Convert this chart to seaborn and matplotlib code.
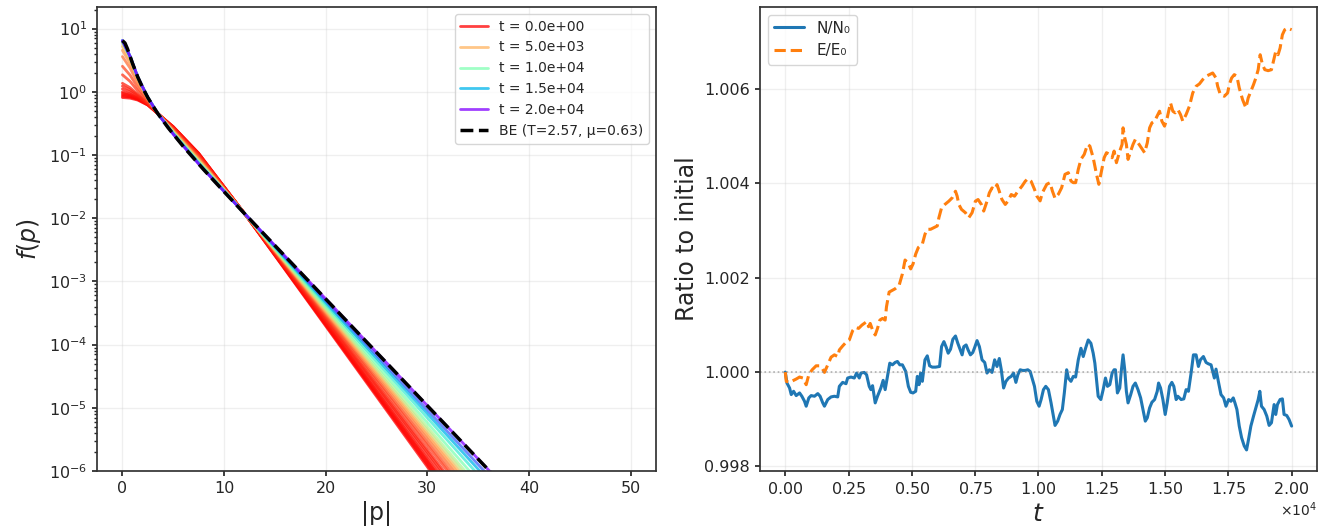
import numpy as np
import matplotlib
matplotlib.use("Agg")
import matplotlib.pyplot as plt
import seaborn as sns
from matplotlib.ticker import MultipleLocator, FormatStrFormatter

T_MAX = 20000

# ── left panel: distribution snapshots, log10 f(p) read at a few |p| knots ──
p_knots = [0, 0.75, 1.5, 2.5, 3.5, 5, 7.5, 12, 50]
snap_t = [0, 100, 200, 300, 400, 600, 800, 1000, 1500, 2000, 3000, 4000,
          5000, 6500, 8000, 10000, 12500, 15000, 17500, 20000]
label_t = [0, 5000, 10000, 15000, 20000]

logf_p0 = [-0.09, -0.068, -0.045, -0.023, 0.0, 0.045, 0.09, 0.135, 0.27, 0.405,
           0.558, 0.657, 0.72, 0.765, 0.788, 0.801, 0.81, 0.81, 0.81, 0.81]
logf_p075 = [-0.10, -0.083, -0.067, -0.050, -0.034, 0.0, 0.033, 0.066, 0.166, 0.265,
             0.378, 0.451, 0.498, 0.531, 0.547, 0.557, 0.564, 0.564, 0.564, 0.564]
logf_p15 = [-0.13, -0.121, -0.112, -0.102, -0.093, -0.075, -0.056, -0.038, 0.017, 0.072,
            0.135, 0.175, 0.201, 0.220, 0.229, 0.234, 0.238, 0.238, 0.238, 0.238]
logf_p25 = [-0.21, -0.207, -0.204, -0.201, -0.198, -0.192, -0.186, -0.18, -0.162, -0.144,
            -0.124, -0.110, -0.102, -0.096, -0.093, -0.091, -0.09, -0.09, -0.09, -0.09]
logf_p35 = [-0.347, -0.347, -0.347, -0.347, -0.347, -0.347, -0.347, -0.347, -0.347, -0.347,
            -0.347, -0.347, -0.347, -0.347, -0.347, -0.347, -0.347, -0.347, -0.347, -0.347]
logf_p5 = [-0.55, -0.553, -0.556, -0.559, -0.562, -0.567, -0.572, -0.577, -0.586, -0.595,
           -0.607, -0.617, -0.625, -0.635, -0.642, -0.650, -0.658, -0.664, -0.667, -0.671]
logf_p75 = [-0.97, -0.974, -0.979, -0.983, -0.987, -0.994, -1.001, -1.008, -1.022, -1.034,
            -1.051, -1.065, -1.077, -1.090, -1.101, -1.113, -1.123, -1.132, -1.137, -1.142]
logf_p12 = [-1.923, -1.923, -1.923, -1.923, -1.923, -1.923, -1.923, -1.923, -1.923, -1.923,
            -1.923, -1.923, -1.923, -1.923, -1.923, -1.923, -1.923, -1.923, -1.923, -1.923]
logf_p50 = [-10.39, -10.318, -10.247, -10.186, -10.124, -10.001, -9.899, -9.817, -9.674,
            -9.572, -9.449, -9.347, -9.265, -9.163, -9.061, -8.918, -8.754, -8.611,
            -8.488, -8.345]

# Bose-Einstein reference curve
p_be = [0, 0.25, 0.5, 0.75, 1, 1.5, 2, 2.5, 3, 3.5, 4.5, 6, 8, 10, 12, 20, 30, 40, 50]
f_be = [6.46, 5.92, 4.78, 3.67, 2.80, 1.73, 1.15, 0.812, 0.596, 0.449, 0.270,
        0.136, 0.0587, 0.0263, 0.0119, 5.28e-4, 1.08e-5, 2.21e-7, 4.52e-9]

# ── right panel: conserved quantities, deviation from 1 in units of 1e-3 ──
t_n = [0, 66, 170, 236, 328, 432, 564, 655, 760, 826, 930, 1022, 1153, 1284, 1376,
       1481, 1547, 1678, 1809, 1940, 2071, 2136, 2267, 2398, 2464, 2595, 2726, 2818,
       2923, 2988, 3119, 3211, 3316, 3381, 3447, 3552, 3643, 3775, 3866, 3945, 4037,
       4128, 4233, 4338, 4430, 4522, 4626, 4757, 4862, 4954, 5046, 5151, 5216, 5282,
       5347, 5413, 5518, 5609, 5701, 5806, 5937, 6094, 6173, 6265, 6356, 6435, 6527,
       6619, 6723, 6815, 6920, 6985, 7051, 7143, 7221, 7313, 7405, 7484, 7575, 7667,
       7772, 7877, 7968, 8060, 8165, 8270, 8362, 8453, 8532, 8624, 8716, 8820, 8925,
       9017, 9109, 9187, 9279, 9371, 9476, 9580, 9672, 9843, 9934, 10026, 10105,
       10197, 10288, 10393, 10498, 10590, 10655, 10760, 10852, 10944, 11022, 11114,
       11180, 11284, 11376, 11468, 11573, 11678, 11769, 11861, 11966, 12071, 12162,
       12228, 12294, 12359, 12464, 12556, 12647, 12726, 12818, 12910, 12988, 13041,
       13119, 13211, 13277, 13342, 13408, 13473, 13539, 13644, 13735, 13827, 13932,
       14036, 14128, 14220, 14299, 14391, 14482, 14587, 14692, 14744, 14823, 14915,
       15006, 15085, 15177, 15269, 15347, 15439, 15505, 15570, 15636, 15741, 15832,
       15924, 16029, 16121, 16226, 16318, 16397, 16515, 16620, 16712, 16817, 16882,
       16948, 17013, 17105, 17210, 17315, 17407, 17512, 17604, 17695, 17761, 17839,
       17931, 18023, 18128, 18220, 18298, 18390, 18495, 18587, 18679, 18744, 18809,
       18914, 19019, 19111, 19203, 19308, 19373, 19439, 19544, 19635, 19701, 19806,
       19898, 20000]
n_dev = [0.0, -0.232, -0.337, -0.477, -0.407, -0.498, -0.442, -0.512, -0.618, -0.723,
         -0.547, -0.498, -0.512, -0.456, -0.512, -0.653, -0.723, -0.582, -0.526, -0.512,
         -0.526, -0.302, -0.218, -0.246, -0.126, -0.105, -0.126, -0.021, -0.126, -0.021,
         -0.007, -0.056, -0.302, -0.372, -0.288, -0.653, -0.512, -0.337, -0.175, -0.372,
         -0.091, 0.189, 0.154, 0.204, 0.225, 0.154, 0.154, 0.014, -0.302, -0.428,
         -0.442, -0.407, -0.091, -0.267, -0.021, -0.196, 0.260, 0.344, 0.133, 0.105,
         0.105, 0.119, 0.540, 0.646, 0.526, 0.400, 0.484, 0.695, 0.765, 0.611,
         0.456, 0.365, 0.540, 0.575, 0.470, 0.365, 0.414, 0.526, 0.667, 0.540,
         0.260, 0.204, -0.021, 0.049, -0.007, 0.260, 0.119, 0.288, 0.049, -0.337,
         -0.196, -0.126, -0.091, -0.021, -0.218, -0.056, 0.049, 0.035, 0.035, 0.049,
         0.014, -0.302, -0.618, -0.723, -0.582, -0.372, -0.302, -0.372, -0.653, -0.933,
         -1.130, -1.039, -0.898, -0.793, -0.442, 0.049, -0.126, -0.196, -0.091, -0.105,
         0.260, 0.505, 0.330, 0.505, 0.681, 0.611, 0.400, 0.189, -0.161, -0.512,
         -0.582, -0.372, -0.126, -0.302, -0.267, -0.021, 0.049, 0.049, -0.442, -0.337,
         0.049, 0.365, 0.049, -0.407, -0.653, -0.477, -0.302, -0.232, -0.372, -0.547,
         -0.793, -1.039, -0.968, -0.758, -0.639, -0.582, -0.407, -0.232, -0.337, -0.582,
         -0.898, -0.653, -0.302, -0.218, -0.302, -0.582, -0.512, -0.547, -0.582, -0.568,
         -0.372, -0.407, -0.021, 0.365, 0.365, 0.119, 0.260, 0.330, 0.204, 0.175,
         0.154, 0.014, -0.126, 0.063, -0.196, -0.477, -0.547, -0.723, -0.582, -0.618,
         -0.547, -0.653, -0.793, -1.144, -1.389, -1.565, -1.649, -1.425, -1.144, -0.933,
         -0.758, -0.582, -0.407, -0.723, -0.793, -0.933, -1.130, -1.074, -0.688, -0.898,
         -0.688, -0.582, -0.568, -0.898, -0.919, -1.004, -1.144]

t_e = [0, 40, 170, 432, 564, 695, 826, 930, 1062, 1219, 1350, 1455, 1547, 1678, 1809,
       1940, 2071, 2136, 2267, 2425, 2530, 2660, 2765, 2897, 3028, 3119, 3211, 3290,
       3355, 3447, 3552, 3643, 3736, 3840, 3945, 3997, 4102, 4338, 4495, 4626, 4731,
       4862, 4954, 5046, 5151, 5256, 5413, 5518, 5609, 5740, 5871, 6002, 6068, 6173,
       6304, 6461, 6592, 6723, 6789, 6855, 6960, 7116, 7248, 7379, 7510, 7615, 7746,
       7838, 7969, 8060, 8165, 8270, 8362, 8453, 8558, 8689, 8794, 8925, 9056, 9187,
       9345, 9476, 9580, 9711, 9843, 9934, 10066, 10157, 10328, 10459, 10550, 10655,
       10786, 10917, 11048, 11180, 11284, 11376, 11468, 11573, 11678, 11809, 11940,
       12031, 12162, 12293, 12385, 12490, 12595, 12687, 12818, 12910, 12988, 13080,
       13211, 13303, 13342, 13408, 13473, 13539, 13644, 13735, 13827, 13932, 14063,
       14194, 14299, 14391, 14482, 14587, 14718, 14783, 14875, 14980, 15085, 15216,
       15308, 15400, 15505, 15610, 15701, 15832, 15963, 16094, 16226, 16357, 16488,
       16620, 16751, 16882, 17013, 17079, 17184, 17341, 17472, 17538, 17630, 17734,
       17839, 17931, 18062, 18193, 18285, 18390, 18495, 18587, 18679, 18757, 18849,
       18941, 19072, 19203, 19282, 19373, 19465, 19544, 19635, 19727, 19832, 20000]
e_dev = [0.0, -0.196, -0.218, -0.147, -0.105, -0.126, -0.267, -0.056, 0.049, 0.133,
         0.133, 0.084, -0.007, 0.154, 0.316, 0.365, 0.330, 0.470, 0.554, 0.646,
         0.681, 0.877, 0.947, 0.926, 0.996, 1.032, 1.067, 0.961, 1.032, 0.891,
         0.786, 0.926, 1.102, 1.137, 1.102, 1.382, 1.695, 1.765, 1.835, 2.081,
         2.375, 2.305, 2.186, 2.291, 2.501, 2.641, 2.711, 2.921, 3.026, 3.026,
         3.061, 3.096, 3.272, 3.482, 3.552, 3.622, 3.692, 3.832, 3.727, 3.552,
         3.447, 3.377, 3.271, 3.377, 3.622, 3.657, 3.552, 3.412, 3.622, 3.797,
         3.902, 3.867, 3.972, 3.832, 3.657, 3.552, 3.622, 3.762, 3.727, 3.832,
         3.937, 4.042, 4.098, 4.042, 3.873, 3.732, 3.627, 3.803, 3.979, 4.014,
         3.838, 3.683, 3.768, 3.908, 4.190, 4.225, 4.049, 4.014, 4.014, 4.296,
         4.507, 4.613, 4.824, 4.789, 4.542, 4.190, 3.979, 4.261, 4.542, 4.648,
         4.613, 4.542, 4.683, 4.437, 4.683, 4.824, 5.176, 4.965, 4.824, 4.507,
         4.683, 4.824, 4.930, 4.859, 4.754, 4.648, 4.859, 5.176, 5.282, 5.317,
         5.458, 5.528, 5.317, 5.211, 5.387, 5.704, 5.528, 5.493, 5.563, 5.458,
         5.317, 5.458, 5.634, 5.915, 6.056, 6.106, 6.197, 6.268, 6.303, 6.338,
         6.232, 6.056, 5.880, 5.845, 5.915, 6.092, 6.232, 6.303, 6.268, 6.021,
         5.775, 5.599, 5.810, 5.951, 6.092, 6.232, 6.408, 6.725, 6.514, 6.408,
         6.387, 6.408, 6.585, 6.796, 6.725, 6.866, 7.148, 7.254, 7.289, 7.254]


sns.set_theme(style="ticks", rc={
    "axes.edgecolor": ".2",
    "xtick.major.size": 3.5, "ytick.major.size": 3.5,
    "xtick.minor.size": 2.0, "ytick.minor.size": 2.0,
    "xtick.labelsize": 11.5, "ytick.labelsize": 11.5,
})
plt.rcParams["font.family"] = ["DejaVu Sans"]

fig = plt.figure(figsize=(13.18, 5.31), dpi=100)
ax1 = fig.add_axes([0.0736, 0.113, 0.4241, 0.8738])
ax2 = fig.add_axes([0.5766, 0.113, 0.4226, 0.8738])

# ── left: f(p) relaxation ────────────────────────────────────────────────
cmap = plt.get_cmap("rainbow")
knot_cols = [logf_p0, logf_p075, logf_p15, logf_p25, logf_p35,
             logf_p5, logf_p75, logf_p12, logf_p50]
for i, t in enumerate(snap_t):
    logf = np.array([col[i] for col in knot_cols])
    lab = f"t = {t:.1e}" if t in label_t else None
    sns.lineplot(x=p_knots, y=10 ** logf, ax=ax1, color=cmap(1 - t / T_MAX),
                 lw=2.0, alpha=0.75, label=lab, sort=False, estimator=None)
sns.lineplot(x=p_be, y=f_be, ax=ax1, color="black", linestyle="--", lw=2.5,
             label="BE (T=2.57, μ=0.63)", sort=False, estimator=None)

ax1.set_yscale("log")
ax1.set_xlim(-2.5, 52.5)
ax1.set_ylim(1e-6, 22)
ax1.xaxis.set_major_locator(MultipleLocator(10))
ax1.grid(True, alpha=0.3)
ax1.set_xlabel("|p|", fontsize=17)
ax1.set_ylabel("$f(p)$", fontsize=17)
ax1.legend(loc="upper right", fontsize=10)

# ── right: conservation check ────────────────────────────────────────────
sns.lineplot(x=t_n, y=1 + np.array(n_dev) * 1e-3, ax=ax2, color="#1f77b4",
             lw=2.2, label="N/N₀", sort=False, estimator=None)
sns.lineplot(x=t_e, y=1 + np.array(e_dev) * 1e-3, ax=ax2, color="#ff7f0e",
             lw=2.2, linestyle="--", label="E/E₀", sort=False, estimator=None)
ax2.axhline(1.0, color="gray", linestyle=":", lw=1.2, alpha=0.6)

ax2.set_xlim(-1000, 21000)
ax2.xaxis.set_major_locator(MultipleLocator(2500))
ax2.ticklabel_format(axis="x", style="sci", scilimits=(0, 0), useMathText=True)
ax2.xaxis.get_offset_text().set_fontsize(10)
ax2.yaxis.set_major_locator(MultipleLocator(0.002))
ax2.yaxis.set_major_formatter(FormatStrFormatter("%.3f"))
ax2.grid(True, alpha=0.3)
ax2.set_xlabel("$t$", fontsize=18)
ax2.set_ylabel("Ratio to initial", fontsize=17)
ax2.legend(loc="upper left", fontsize=11)

fig.savefig("out.png", dpi=100)
